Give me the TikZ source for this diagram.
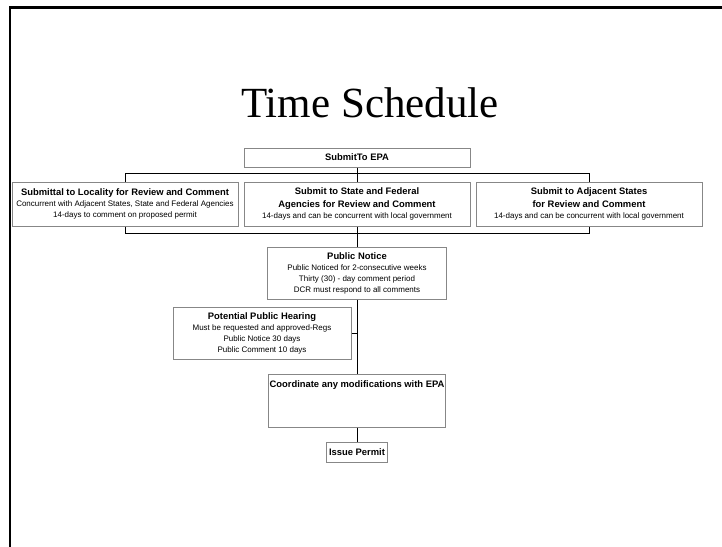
\documentclass[tikz,border=0pt]{standalone}
\usepackage{fontspec}
\newfontfamily\arialfam{Liberation Sans}
\newfontfamily\serifttl{Liberation Serif}
\newcommand\hdf{\arialfam\bfseries\fontsize{9.4}{13.5}\selectfont}
\newcommand\bdf{\arialfam\fontsize{8}{11}\selectfont}
\definecolor{boxgray}{RGB}{135,135,135}
\begin{document}
\begin{tikzpicture}[x=1pt,y=-1pt,
  box/.style={draw=boxgray,line width=1pt,rectangle,inner sep=0pt,align=center,font=\bdf},
  conn/.style={draw=black,line width=0.9pt}]
\useasboundingbox (0,0) rectangle (722,546);
% frame
\draw[line width=2.2pt] (10,547) -- (10,7.5) -- (723,7.5);
% title
\node[anchor=base,inner sep=0pt,font=\serifttl\fontsize{43}{48}\selectfont] (title) at (370,117) {Time Schedule};
% boxes
\node[box,minimum width=226,minimum height=19] (epa) at (357,157.5) {\hdf SubmitTo EPA};
\node[box,minimum width=226,minimum height=44] (loc) at (125,204) {{\hdf Submittal to Locality for Review and Comment}\\Concurrent with Adjacent States, State and Federal Agencies\\14-days to comment on proposed permit};
\node[box,minimum width=226,minimum height=44] (sf) at (357,204) {{\hdf Submit to State and Federal}\\[1.5pt]{\hdf Agencies for Review and Comment}\\14-days and can be concurrent with local government};
\node[box,minimum width=226,minimum height=44] (adj) at (589,204) {{\hdf Submit to Adjacent States}\\[1.5pt]{\hdf for Review and Comment}\\14-days and can be concurrent with local government};
\node[box,minimum width=179,minimum height=52] (pn) at (357,273) {{\hdf Public Notice}\\Public Noticed for 2-consecutive weeks\\Thirty (30) - day comment period\\DCR must respond to all comments};
\node[box,minimum width=178,minimum height=52] (ph) at (262,333) {{\hdf Potential Public Hearing}\\Must be requested and approved-Regs\\Public Notice 30 days\\Public Comment 10 days};
\node[box,minimum width=177,minimum height=53] (co) at (357,400.5) {};
\node[anchor=base,inner sep=0pt,font=\hdf] (cotext) at (357,387.5) {Coordinate any modifications with EPA};
\node[box,minimum width=61,minimum height=20] (ip) at (357,452) {\hdf Issue Permit};
% connectors
\draw[conn] (epa.south) -- (sf.north);
\draw[conn] (loc.north) -- ++(0,-8) -| (adj.north);
\draw[conn] (loc.south) -- ++(0,7) -| (adj.south);
\draw[conn] (sf.south) -- (pn.north);
\draw[conn] (pn.south) -- (co.north);
\draw[conn] (ph.east) -- (ph.east -| pn.south);
\draw[conn] (co.south) -- (ip.north);
\end{tikzpicture}
\end{document}
